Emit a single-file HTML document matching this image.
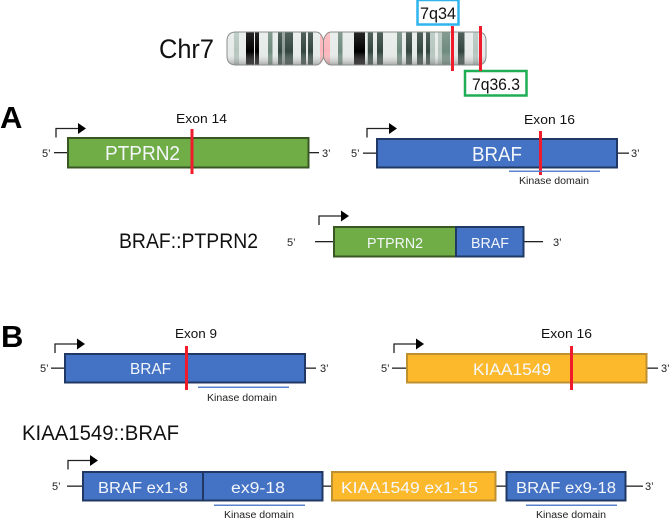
<!DOCTYPE html>
<html>
<head>
<meta charset="utf-8">
<style>
html,body{margin:0;padding:0;background:#fff;width:669px;height:519px;overflow:hidden}
svg{display:block}
text{font-family:"Liberation Sans",sans-serif;fill:#111}
.w{fill:#f4f7fb}
.s{font-size:10px;fill:#222}
.e{font-size:13px}
.g{font-size:11px;fill:#222}
</style>
</head>
<body>
<svg width="669" height="519" viewBox="0 0 669 519" xmlns="http://www.w3.org/2000/svg">
<defs>
<clipPath id="chr"><path d="M236 32H316Q321 32 323.500 40V57Q321 65 316 65H236Q227 65 227 56V41Q227 32 236 32ZM331 32H478Q486 32 486 41V56Q486 65 478 65H331Q326 65 323.500 57V40Q326 32 331 32Z"/></clipPath>
<linearGradient id="sh" x1="0" y1="0" x2="0" y2="1">
<stop offset="0" stop-color="#fff" stop-opacity=".15"/>
<stop offset=".6" stop-color="#fff" stop-opacity="0"/>
<stop offset="1" stop-color="#777" stop-opacity=".55"/>
</linearGradient>
<g id="arrow"><path d="M0 9V0H22" fill="none" stroke="#222" stroke-width="1.300"/><path d="M22 -5.500L30 0L22 5.500Z" fill="#000"/></g>
</defs>

<!-- chromosome -->
<g clip-path="url(#chr)">
<rect x="227" y="32" width="260" height="33" fill="#e6ebe9"/>
<g fill="#b5c6bf">
<rect x="234" y="32" width="5" height="33"/>
<rect x="430" y="32" width="5" height="33"/>
<rect x="438" y="32" width="4" height="33"/>
<rect x="473" y="32" width="5" height="33"/>
<rect x="367" y="32" width="1" height="33"/>
</g>
<g fill="#6f8a7e">
<rect x="268" y="32" width="4.500" height="33"/>
<rect x="338" y="32" width="4.500" height="33"/>
<rect x="397" y="32" width="5" height="33"/>
<rect x="442" y="32" width="8" height="33"/>
</g>
<g fill="#33463f">
<rect x="278" y="32" width="4.500" height="33"/>
<rect x="283.500" y="32" width="1" height="33"/>
<rect x="285" y="32" width="8" height="33"/>
<rect x="301" y="32" width="5" height="33"/>
<rect x="308" y="32" width="5" height="33"/>
<rect x="368" y="32" width="5" height="33"/>
<rect x="377" y="32" width="6" height="33"/>
<rect x="406" y="32" width="6" height="33"/>
<rect x="417" y="32" width="6" height="33"/>
<rect x="426" y="32" width="4" height="33"/>
<rect x="458" y="32" width="6.500" height="33"/>
</g>
<g fill="#000">
<rect x="246" y="32" width="8" height="33"/>
<rect x="255" y="32" width="4" height="33"/>
<rect x="354" y="32" width="11" height="33"/>
</g>
<rect x="320" y="32" width="10" height="33" fill="#fdb6bb"/>
<rect x="227" y="32" width="260" height="33" fill="url(#sh)"/>
</g>
<path d="M236 32H316Q321 32 323.500 40V57Q321 65 316 65H236Q227 65 227 56V41Q227 32 236 32ZM331 32H478Q486 32 486 41V56Q486 65 478 65H331Q326 65 323.500 57V40Q326 32 331 32Z" fill="none" stroke="#8a8f8d" stroke-width="1"/>

<text x="159" y="58" font-size="27" textLength="55" lengthAdjust="spacingAndGlyphs">Chr7</text>
<rect x="417.500" y="0" width="41" height="24.500" fill="#fff" stroke="#2fb4ee" stroke-width="2.500"/>
<text x="420" y="19" font-size="16.500" textLength="36" lengthAdjust="spacingAndGlyphs">7q34</text>
<rect x="465" y="71" width="61.500" height="24.500" fill="#fff" stroke="#1fae54" stroke-width="2.500"/>
<text x="472" y="90" font-size="16.500" textLength="48" lengthAdjust="spacingAndGlyphs">7q36.3</text>
<rect x="451" y="26" width="3" height="45" fill="#f01c2c"/>
<rect x="479" y="26" width="3" height="45" fill="#f01c2c"/>

<!-- Panel A -->
<text x="0" y="128" font-size="31" font-weight="bold" style="fill:#000">A</text>
<use href="#arrow" x="56" y="128.500"/>
<rect x="54" y="152" width="13" height="1.300" fill="#222"/>
<rect x="309" y="152" width="10" height="1.300" fill="#222"/>
<text class="g" x="42" y="157">5’</text>
<text class="g" x="322" y="157">3’</text>
<rect x="68" y="138" width="240.500" height="29.500" fill="#70ad47" stroke="#385723" stroke-width="2"/>
<text class="w" x="105" y="160" font-size="20" textLength="75" lengthAdjust="spacingAndGlyphs">PTPRN2</text>
<rect x="190.500" y="129" width="3" height="45" fill="#f01c2c"/>
<text class="e" x="176" y="123" textLength="51" lengthAdjust="spacingAndGlyphs">Exon 14</text>

<use href="#arrow" x="367" y="128.500"/>
<rect x="363" y="152.500" width="13" height="1.300" fill="#222"/>
<rect x="618" y="152.500" width="11" height="1.300" fill="#222"/>
<text class="g" x="351" y="157">5’</text>
<text class="g" x="631" y="157">3’</text>
<rect x="377" y="139" width="240" height="28.500" fill="#4472c4" stroke="#1f3864" stroke-width="2"/>
<text class="w" x="472" y="161" font-size="20" textLength="50" lengthAdjust="spacingAndGlyphs">BRAF</text>
<rect x="539" y="131" width="3" height="44" fill="#f01c2c"/>
<rect x="509" y="170.500" width="91" height="1.500" fill="#5b82cc"/>
<text class="e" x="524" y="124" textLength="51" lengthAdjust="spacingAndGlyphs">Exon 16</text>
<text class="s" x="519" y="184" textLength="70" lengthAdjust="spacingAndGlyphs">Kinase domain</text>

<text x="119" y="248" font-size="21" textLength="139" lengthAdjust="spacingAndGlyphs">BRAF::PTPRN2</text>
<use href="#arrow" x="319" y="216"/>
<rect x="315" y="241" width="18" height="1.300" fill="#222"/>
<rect x="524" y="241" width="19" height="1.300" fill="#222"/>
<text class="g" x="287" y="246">5’</text>
<text class="g" x="553" y="246">3’</text>
<rect x="334" y="227" width="122" height="29.500" fill="#70ad47" stroke="#385723" stroke-width="2"/>
<rect x="456" y="227" width="67.500" height="29.500" fill="#4472c4" stroke="#1f3864" stroke-width="2"/>
<text class="w" x="367" y="248" font-size="15" textLength="56" lengthAdjust="spacingAndGlyphs">PTPRN2</text>
<text class="w" x="471" y="248" font-size="15" textLength="38" lengthAdjust="spacingAndGlyphs">BRAF</text>

<!-- Panel B -->
<text x="1" y="347" font-size="31" font-weight="bold" style="fill:#000">B</text>
<use href="#arrow" x="55" y="344"/>
<rect x="51" y="367.500" width="13" height="1.300" fill="#222"/>
<rect x="306" y="367.500" width="10" height="1.300" fill="#222"/>
<text class="g" x="40" y="372">5’</text>
<text class="g" x="320" y="372">3’</text>
<rect x="65" y="354" width="240" height="28.500" fill="#4472c4" stroke="#1f3864" stroke-width="2"/>
<text class="w" x="130" y="374" font-size="15.500" textLength="41" lengthAdjust="spacingAndGlyphs">BRAF</text>
<rect x="185" y="346" width="3" height="44" fill="#f01c2c"/>
<rect x="198" y="386.500" width="91" height="1.500" fill="#5b82cc"/>
<text class="e" x="175" y="338" textLength="42" lengthAdjust="spacingAndGlyphs">Exon 9</text>
<text class="s" x="207" y="401" textLength="70" lengthAdjust="spacingAndGlyphs">Kinase domain</text>

<use href="#arrow" x="394" y="344"/>
<rect x="392" y="367.500" width="14" height="1.300" fill="#222"/>
<rect x="647" y="367.500" width="11" height="1.300" fill="#222"/>
<text class="g" x="381" y="372">5’</text>
<text class="g" x="661" y="372">3’</text>
<rect x="407" y="354" width="239.500" height="28.500" fill="#fdb92c" stroke="#bf9030" stroke-width="2"/>
<text class="w" x="473" y="375" font-size="16.500" textLength="78" lengthAdjust="spacingAndGlyphs">KIAA1549</text>
<rect x="570" y="346" width="3" height="44" fill="#f01c2c"/>
<text class="e" x="541" y="338" textLength="51" lengthAdjust="spacingAndGlyphs">Exon 16</text>

<text x="22" y="440" font-size="21" textLength="157" lengthAdjust="spacingAndGlyphs">KIAA1549::BRAF</text>
<use href="#arrow" x="68" y="460.500"/>
<rect x="67" y="485.500" width="15" height="1.300" fill="#222"/>
<rect x="323" y="485.500" width="8" height="1.300" fill="#222"/>
<rect x="496" y="485.500" width="10" height="1.300" fill="#222"/>
<rect x="626" y="485.500" width="17" height="1.300" fill="#222"/>
<text class="g" x="52" y="490">5’</text>
<text class="g" x="645" y="490">3’</text>
<rect x="83" y="472" width="120" height="28.500" fill="#4472c4" stroke="#1f3864" stroke-width="2"/>
<rect x="203" y="472" width="119.500" height="28.500" fill="#4472c4" stroke="#1f3864" stroke-width="2"/>
<text class="w" x="98" y="493" font-size="15.500" textLength="90" lengthAdjust="spacingAndGlyphs">BRAF ex1-8</text>
<text class="w" x="231" y="493" font-size="15.500" textLength="54" lengthAdjust="spacingAndGlyphs">ex9-18</text>
<rect x="332" y="472" width="163.500" height="28.500" fill="#fdb92c" stroke="#bf9030" stroke-width="2"/>
<text class="w" x="341" y="493" font-size="15.500" textLength="137" lengthAdjust="spacingAndGlyphs">KIAA1549 ex1-15</text>
<rect x="506.500" y="472" width="119" height="28.500" fill="#4472c4" stroke="#1f3864" stroke-width="2"/>
<text class="w" x="516" y="493" font-size="15.500" textLength="100" lengthAdjust="spacingAndGlyphs">BRAF ex9-18</text>
<rect x="214" y="504.500" width="91" height="1.500" fill="#5b82cc"/>
<rect x="526" y="504.500" width="91" height="1.500" fill="#5b82cc"/>
<text class="s" x="224" y="518" textLength="70" lengthAdjust="spacingAndGlyphs">Kinase domain</text>
<text class="s" x="536" y="518" textLength="70" lengthAdjust="spacingAndGlyphs">Kinase domain</text>
</svg>
</body>
</html>
